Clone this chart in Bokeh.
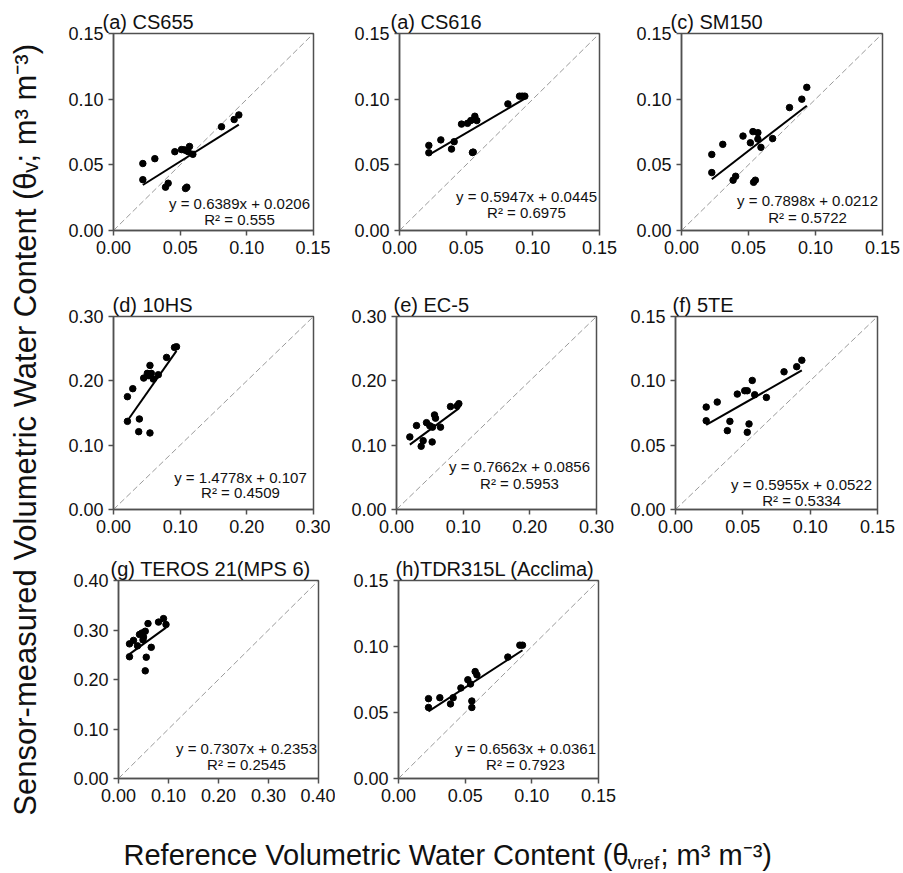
import numpy as np
from bokeh.plotting import figure
from bokeh.models import Range1d, FixedTicker, PrintfTickFormatter, Label
from bokeh.layouts import row, column
from bokeh.embed import file_html
from bokeh.resources import INLINE

# ---------------- data ----------------
titles = ["(a) CS655", "(a) CS616", "(c) SM150", "(d) 10HS", "(e) EC-5", "(f) 5TE",
          "(g) TEROS 21(MPS 6)", "(h)TDR315L (Acclima)"]

a_x = [0.022, 0.022, 0.031, 0.039, 0.041, 0.046, 0.051, 0.053, 0.0545, 0.056, 0.057, 0.0595, 0.054, 0.055, 0.081, 0.0905, 0.094]
a_y = [0.051, 0.0387, 0.0547, 0.033, 0.036, 0.060, 0.0616, 0.0614, 0.061, 0.060, 0.064, 0.058, 0.032, 0.033, 0.079, 0.0845, 0.088]

b_x = [0.022, 0.022, 0.031, 0.039, 0.041, 0.0465, 0.051, 0.0535, 0.0565, 0.058, 0.0547, 0.0553, 0.0813, 0.090, 0.092, 0.094]
b_y = [0.0648, 0.0592, 0.069, 0.062, 0.0676, 0.081, 0.0816, 0.0837, 0.087, 0.0837, 0.0594, 0.0597, 0.0964, 0.1023, 0.1023, 0.1023]

c_x = [0.0226, 0.0226, 0.0308, 0.0385, 0.0404, 0.0459, 0.0514, 0.0533, 0.057, 0.057, 0.0593, 0.0538, 0.0551, 0.068, 0.0806, 0.0898, 0.0935]
c_y = [0.0579, 0.0441, 0.0656, 0.0383, 0.0413, 0.0719, 0.0668, 0.0753, 0.0745, 0.0696, 0.0633, 0.0367, 0.0383, 0.070, 0.0936, 0.100, 0.109]

d_x = [0.0209, 0.0209, 0.0289, 0.0388, 0.0378, 0.0453, 0.0507, 0.0547, 0.052, 0.0567, 0.0597, 0.0547, 0.0672, 0.0796, 0.0915, 0.0945]
d_y = [0.1754, 0.137, 0.1878, 0.1407, 0.121, 0.2043, 0.2116, 0.224, 0.208, 0.2116, 0.2028, 0.119, 0.2095, 0.2364, 0.252, 0.253]

e_x = [0.020, 0.030, 0.037, 0.040, 0.045, 0.050, 0.054, 0.057, 0.0585, 0.0535, 0.066, 0.081, 0.091, 0.0935]
e_y = [0.1128, 0.1304, 0.0983, 0.107, 0.135, 0.130, 0.128, 0.147, 0.142, 0.105, 0.128, 0.160, 0.161, 0.1645]

f_x = [0.0228, 0.0228, 0.031, 0.0385, 0.0404, 0.0459, 0.0514, 0.0533, 0.057, 0.0588, 0.0546, 0.0533, 0.0675, 0.0806, 0.090, 0.0938]
f_y = [0.0796, 0.069, 0.0835, 0.0613, 0.0685, 0.0897, 0.0923, 0.0923, 0.1003, 0.0892, 0.0665, 0.060, 0.0871, 0.107, 0.111, 0.116]

g_x = [0.022, 0.022, 0.030, 0.038, 0.042, 0.047, 0.050, 0.0535, 0.059, 0.049, 0.0555, 0.0535, 0.0655, 0.080, 0.090, 0.095]
g_y = [0.272, 0.246, 0.279, 0.268, 0.291, 0.294, 0.286, 0.2975, 0.313, 0.280, 0.245, 0.2175, 0.265, 0.316, 0.323, 0.311]

h_x = [0.0225, 0.0225, 0.031, 0.039, 0.041, 0.0468, 0.052, 0.054, 0.0575, 0.0588, 0.055, 0.055, 0.082, 0.091, 0.093]
h_y = [0.0605, 0.0538, 0.0612, 0.0565, 0.0612, 0.0686, 0.0748, 0.0716, 0.081, 0.0785, 0.0587, 0.0538, 0.092, 0.101, 0.101]

slopes = [0.6389, 0.5947, 0.7898, 1.4778, 0.7662, 0.5955, 0.7307, 0.6563]
intercepts = [0.0206, 0.0445, 0.0212, 0.107, 0.0856, 0.0522, 0.2353, 0.0361]
eq_texts = ["y = 0.6389x + 0.0206", "y = 0.5947x + 0.0445", "y = 0.7898x + 0.0212",
            "y = 1.4778x + 0.107", "y = 0.7662x + 0.0856", "y = 0.5955x + 0.0522",
            "y = 0.7307x + 0.2353", "y = 0.6563x + 0.0361"]
r2_texts = ["R\u00b2 = 0.555", "R\u00b2 = 0.6975", "R\u00b2 = 0.5722", "R\u00b2 = 0.4509",
            "R\u00b2 = 0.5953", "R\u00b2 = 0.5334", "R\u00b2 = 0.2545", "R\u00b2 = 0.7923"]

ticks_015 = [0.0, 0.05, 0.10, 0.15]
ticks_030 = [0.0, 0.10, 0.20, 0.30]
ticks_040 = [0.0, 0.10, 0.20, 0.30, 0.40]

xs_all = [a_x, b_x, c_x, d_x, e_x, f_x, g_x, h_x]
ys_all = [a_y, b_y, c_y, d_y, e_y, f_y, g_y, h_y]
ticks_all = [ticks_015, ticks_015, ticks_015, ticks_030, ticks_030, ticks_015, ticks_040, ticks_015]

ylabel_text = "Sensor-measured Volumetric Water Content  (\u03b8\u1d65; m\u00b3 m\u207b\u00b3)"
xlabel_main = "Reference Volumetric Water Content (\u03b8"
xlabel_sub = "vref"
xlabel_end = "; m\u00b3 m\u207b\u00b3)"

# ---------------- layout / style ----------------
FONT = "Liberation Sans"
AX = "#505050"

# (left, plot w, right, top, plot h, bottom, title offset, eq x frac, eq y1 frac, eq y2 frac)
geo = [
    (69, 200, 17, 33, 197, 60, -11, 0.63, 0.137, 0.056),
    (69, 200, 18, 33, 197, 60, -9, 0.635, 0.173, 0.092),
    (64, 201, 18, 33, 197, 60, -11, 0.627, 0.153, 0.066),
    (69, 200, 17, 25, 194, 45, -1, 0.635, 0.166, 0.088),
    (66, 200, 18, 25, 194, 45, -3, 0.615, 0.223, 0.135),
    (61, 202, 20, 25, 194, 45, -3, 0.624, 0.13, 0.047),
    (74, 200, 17, 25, 199, 37, -8, 0.64, 0.154, 0.072),
    (63, 200, 18, 25, 199, 37, -3, 0.635, 0.153, 0.069),
]


def make_panel(i):
    L, W, R, T, H, B, toff, fx, fy1, fy2 = geo[i]
    ticks = ticks_all[i]
    vmax = ticks[-1]
    p = figure(width=L + W + R, height=T + H + B,
               min_border_left=L, min_border_right=R, min_border_top=T, min_border_bottom=B,
               x_range=Range1d(0, vmax), y_range=Range1d(0, vmax),
               output_backend="svg", toolbar_location=None, title=titles[i])
    p.title.text_font = FONT
    p.title.text_font_size = "20px"
    p.title.text_font_style = "normal"
    p.title.text_color = "#111111"
    p.title.align = "left"
    p.title.offset = toff
    p.title.standoff = 2
    p.grid.visible = False
    p.outline_line_color = AX
    p.outline_line_width = 1.5
    p.background_fill_color = "white"
    p.border_fill_color = "white"
    for ax in (p.xaxis[0], p.yaxis[0]):
        ax.ticker = FixedTicker(ticks=ticks)
        ax.formatter = PrintfTickFormatter(format="%.2f")
        ax.major_label_text_font = FONT
        ax.major_label_text_font_size = "18px"
        ax.major_label_text_color = "#111111"
        ax.axis_line_color = AX
        ax.axis_line_width = 1.5
        ax.major_tick_line_color = AX
        ax.major_tick_line_width = 1.5
        ax.major_tick_out = 5
        ax.major_tick_in = 0
        ax.minor_tick_line_color = None
        ax.major_label_standoff = 5

    xs = np.array(xs_all[i])
    ys = np.array(ys_all[i])
    # 1:1 line
    p.line([0, vmax], [0, vmax], line_color="#9a9a9a", line_width=1, line_dash="6 3")
    # regression line
    xl = np.array([xs.min(), xs.max()])
    p.line(xl, slopes[i] * xl + intercepts[i], line_color="black", line_width=2)
    # points
    p.scatter(xs, ys, size=6.5, color="black")
    # equation text
    for txt, fy in ((eq_texts[i], fy1), (r2_texts[i], fy2)):
        p.add_layout(Label(x=fx * vmax, y=fy * vmax, text=txt, text_align="center",
                           text_baseline="middle", text_font=FONT, text_font_size="15px",
                           text_color="#111111"))
    return p


panels = [make_panel(i) for i in range(8)]

# y label
YW, TOTAL_H = 44, 873
ylab = figure(width=YW, height=TOTAL_H, x_range=Range1d(0, YW), y_range=Range1d(0, TOTAL_H),
              x_axis_type=None, y_axis_type=None, min_border=0, output_backend="svg",
              toolbar_location=None)
ylab.grid.visible = False
ylab.outline_line_color = None
ylab.add_layout(Label(x=25, y=448, text=ylabel_text, angle=np.pi / 2, text_align="center",
                      text_baseline="middle", text_font=FONT, text_font_size="31px",
                      text_color="#111111"))

# x label
XW, XH = 859, 58
xlab = figure(width=XW, height=XH, x_range=Range1d(0, XW), y_range=Range1d(0, XH),
              x_axis_type=None, y_axis_type=None, min_border=0, output_backend="svg",
              toolbar_location=None)
xlab.grid.visible = False
xlab.outline_line_color = None
x0, ymid = 79, 19
w_main, w_sub = 504, 33
xlab.add_layout(Label(x=x0, y=ymid, text=xlabel_main, text_align="left", text_baseline="middle",
                      text_font=FONT, text_font_size="29px", text_color="#111111"))
xlab.add_layout(Label(x=x0 + w_main, y=ymid - 8, text=xlabel_sub, text_align="left",
                      text_baseline="middle", text_font=FONT, text_font_size="19px",
                      text_color="#111111"))
xlab.add_layout(Label(x=x0 + w_main + w_sub, y=ymid, text=xlabel_end, text_align="left",
                      text_baseline="middle", text_font=FONT, text_font_size="29px",
                      text_color="#111111"))

grid = column(row(panels[0], panels[1], panels[2]),
              row(panels[3], panels[4], panels[5]),
              row(panels[6], panels[7]),
              xlab)
layout = row(ylab, grid)

open("out.html", "w").write(file_html(layout, INLINE))
